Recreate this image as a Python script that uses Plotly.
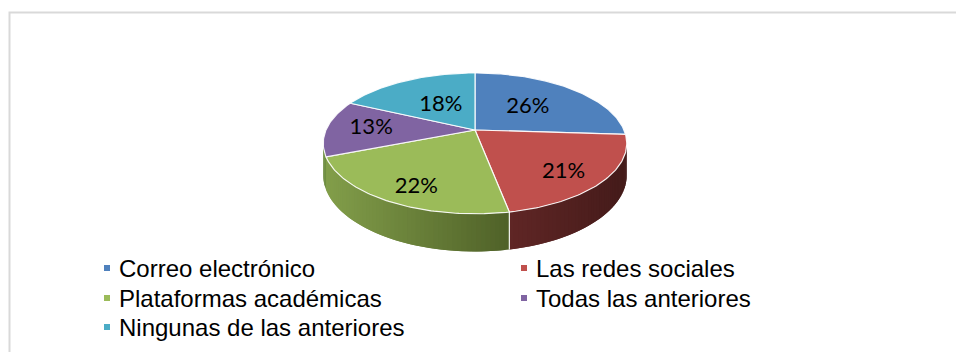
import math
import plotly.graph_objects as go

# Survey shares (percent) for each communication channel
categories = [
    "Correo electrónico",
    "Las redes sociales",
    "Plataformas académicas",
    "Todas las anteriores",
    "Ningunas de las anteriores",
]
values = [26, 21, 22, 13, 18]

# Office-style palette: top face colour and side wall gradient (left -> right)
colors = ["#4F81BD", "#C0504D", "#9BBB59", "#8064A2", "#4BACC6"]
wall_colors = [
    ((44, 74, 112), (36, 64, 95)),
    ((96, 38, 37), (68, 27, 26)),
    ((130, 158, 74), (79, 97, 40)),
    ((112, 142, 66), (112, 142, 66)),   # thin sliver on the silhouette, lit like its neighbour
    ((43, 106, 122), (35, 86, 99)),
]

# Perspective pie geometry (pixel space, y downwards)
CX, CY = 475, 130      # projected centre of the top face
AX, AY = 149, 67.9     # half axes before perspective
K = 0.19               # perspective strength
DEPTH = 30.5           # extrusion height
LABEL_R = [0.52, 0.72, 0.72, 0.70, 0.46]

# Legend grid (two columns, rows filled left to right)
LEGEND_KEY_X = [107, 524]
LEGEND_ROW_Y = [268, 298, 327]
LEGEND_TEXT_GAP = 11


def project(u, v):
    d = 1 - K * v
    return CX + AX * u / d, CY + AY * v / d


def rim(theta, r=1.0):
    t = math.radians(theta)
    return project(r * math.sin(t), -r * math.cos(t))


def depth_at(theta):
    v = -math.cos(math.radians(theta))
    return DEPTH / (1 - K * v)


def arc(a, b, step=1.0):
    n = max(2, int(math.ceil((b - a) / step)) + 1)
    return [a + (b - a) * i / (n - 1) for i in range(n)]


total = sum(values)
bounds = []
acc = 0.0
for v in values:
    start = acc / total * 360
    acc += v
    bounds.append((start, acc / total * 360))

fig = go.Figure()

# ---- side walls (only the front half is visible)
vis_a = math.degrees(math.acos(-K))
vis_b = 360 - vis_a
x_left, x_right = rim(vis_b)[0], rim(vis_a)[0]
for i, (a, b) in enumerate(bounds):
    lo, hi = max(a, vis_a), min(b, vis_b)
    if hi <= lo:
        continue
    thetas = arc(lo, hi, 1.5)
    xs_all = [rim(t)[0] for t in thetas]
    xmin, xmax = min(xs_all), max(xs_all)
    c0, c1 = wall_colors[i]
    for j in range(len(thetas) - 1):
        t0 = thetas[j]
        t1 = thetas[min(j + 2, len(thetas) - 1)]  # overlap the next strip to hide seams
        x0, y0 = rim(t0)
        x1, y1 = rim(t1)
        xm = (rim(thetas[j])[0] + rim(thetas[j + 1])[0]) / 2
        f = (xm - xmin) / (xmax - xmin) if xmax > xmin else 0
        col = "rgb({},{},{})".format(*[round(c0[k] + (c1[k] - c0[k]) * f) for k in range(3)])
        fig.add_trace(go.Scatter(
            x=[x0, x1, x1, x0, x0],
            y=[y0, y1, y1 + depth_at(t1), y0 + depth_at(t0), y0],
            mode="lines", fill="toself", fillcolor=col,
            line=dict(width=0),
            hoverinfo="skip", showlegend=False,
        ))
    # white seam where two slices meet on the wall (skip ones hugging the silhouette)
    for t in (lo, hi):
        if t in (a, b) and vis_a < t < vis_b:
            x, y = rim(t)
            if min(x - x_left, x_right - x) < 6:
                continue
            fig.add_trace(go.Scatter(
                x=[x, x], y=[y, y + depth_at(t)], mode="lines",
                line=dict(color="rgba(255,255,255,0.85)", width=1.2),
                hoverinfo="skip", showlegend=False,
            ))

# ---- top faces
for i, (a, b) in enumerate(bounds):
    pts = [rim(t) for t in arc(a, b, 1.0)]
    xs = [CX] + [p[0] for p in pts] + [CX]
    ys = [CY] + [p[1] for p in pts] + [CY]
    fig.add_trace(go.Scatter(
        x=xs, y=ys, mode="lines", fill="toself", fillcolor=colors[i],
        line=dict(color="rgba(255,255,255,0.9)", width=1.2),
        name=categories[i], hoverinfo="name", showlegend=False,
    ))

# ---- percentage labels
lx, ly, lt = [], [], []
for i, (a, b) in enumerate(bounds):
    m = (a + b) / 2
    t = math.radians(m)
    u, v = math.sin(t), -math.cos(t)
    x, y = project(LABEL_R[i] * u, LABEL_R[i] * v)
    y += 10 * max(v, 0)
    lx.append(x)
    ly.append(y)
    lt.append(f"{values[i]}%")
fig.add_trace(go.Scatter(
    x=lx, y=ly, text=lt, mode="text", textposition="middle center",
    textfont=dict(family="Lato, Carlito, sans-serif", size=22, color="#000000"),
    hoverinfo="skip", showlegend=False,
))

# ---- legend: coloured keys and category names
shapes = [dict(
    type="rect", xref="x", yref="y", x0=9.5, y0=12.5, x1=980, y1=380,
    line=dict(color="#d9d9d9", width=2), fillcolor="rgba(0,0,0,0)", layer="below",
)]
annotations = []
for i, name in enumerate(categories):
    kx = LEGEND_KEY_X[i % 2]
    ky = LEGEND_ROW_Y[i // 2]
    shapes.append(dict(
        type="rect", xref="x", yref="y", x0=kx - 3, x1=kx + 3, y0=ky - 3, y1=ky + 3,
        line=dict(width=0), fillcolor=colors[i], layer="above",
    ))
    annotations.append(dict(
        x=kx + LEGEND_TEXT_GAP, y=ky, xref="x", yref="y", text=name,
        showarrow=False, xanchor="left", yanchor="middle", borderpad=0,
        font=dict(family="Liberation Sans, Arial, sans-serif", size=24, color="#000000"),
    ))

fig.update_layout(
    width=956, height=352,
    margin=dict(l=0, r=0, t=0, b=0, autoexpand=False),
    paper_bgcolor="white", plot_bgcolor="white",
    xaxis=dict(range=[0, 956], visible=False, fixedrange=True),
    yaxis=dict(range=[352, 0], visible=False, fixedrange=True),
    showlegend=False,
    shapes=shapes,
    annotations=annotations,
)

fig.write_html("out.html")
